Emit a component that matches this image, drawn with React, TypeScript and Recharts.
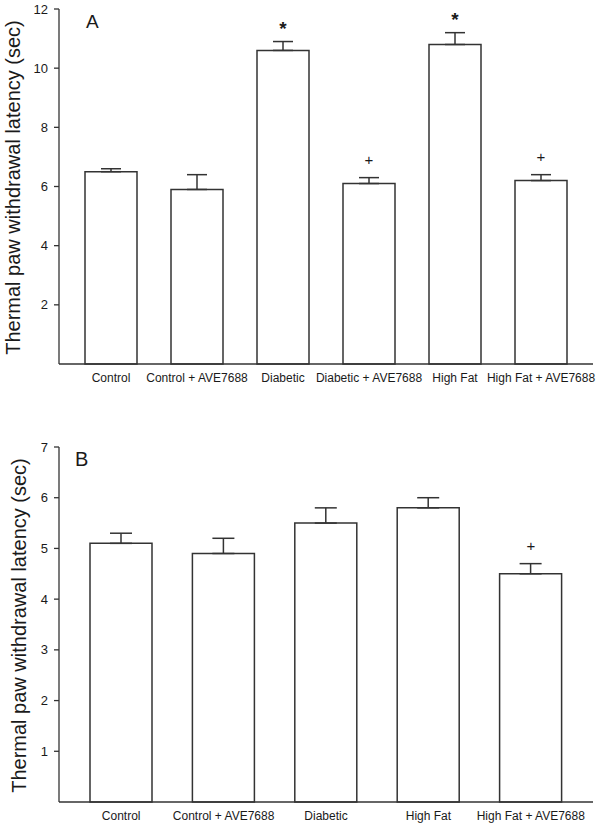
import React from "react";
import {
  Bar,
  ComposedChart,
  ErrorBar,
  Label,
  Scatter,
  XAxis,
  YAxis,
} from "recharts";

const FONT = "'Liberation Sans', Arial, Helvetica, sans-serif";
const INK = "#1a1a1a";
const LINE = "#333";

// panel A
const groupsA = [
  "Control",
  "Control + AVE7688",
  "Diabetic",
  "Diabetic + AVE7688",
  "High Fat",
  "High Fat + AVE7688",
];
const meanA = [6.5, 5.9, 10.6, 6.1, 10.8, 6.2];
const semA = [0.1, 0.5, 0.3, 0.2, 0.4, 0.2];
const markA = ["", "", "*", "+", "*", "+"];
const ticksA = [2, 4, 6, 8, 10, 12];

// panel B
const groupsB = [
  "Control",
  "Control + AVE7688",
  "Diabetic",
  "High Fat",
  "High Fat + AVE7688",
];
const meanB = [5.1, 4.9, 5.5, 5.8, 4.5];
const semB = [0.2, 0.3, 0.3, 0.2, 0.2];
const markB = ["", "", "", "", "+"];
const ticksB = [1, 2, 3, 4, 5, 6, 7];

const Y_TITLE = "Thermal paw withdrawal latency (sec)";

function rows(groups: string[], mean: number[], sem: number[], mark: string[]) {
  return groups.map((name, i) => ({
    name,
    mean: mean[i],
    err: [0, sem[i]],
    top: mean[i] + sem[i],
    mark: mark[i],
  }));
}

function MarkShape(props: any) {
  const { cx, cy, payload } = props;
  if (!payload || !payload.mark) return <g />;
  const star = payload.mark === "*";
  return (
    <text
      x={cx}
      y={star ? cy - 7 : cy - 13}
      textAnchor="middle"
      fontFamily={FONT}
      fontSize={star ? 19 : 15}
      fontWeight={star ? "bold" : "normal"}
      fill={INK}
    >
      {payload.mark}
    </text>
  );
}

function yTitle(baseX: number) {
  return (p: any) => {
    const vb = p.viewBox || {};
    const cy = (vb.y ?? 0) + (vb.height ?? 0) / 2 + 1;
    return (
      <text
        x={baseX}
        y={cy}
        transform={`rotate(-90, ${baseX}, ${cy})`}
        textAnchor="middle"
        fontFamily={FONT}
        fontSize={20}
        fill={INK}
      >
        {Y_TITLE}
      </text>
    );
  };
}

type PanelProps = {
  data: any[];
  ticks: number[];
  max: number;
  height: number;
  margin: { top: number; right: number; bottom: number; left: number };
  pad: number;
  barSize: number;
  capWidth: number;
  titleX: number;
  xHeight: number;
};

function Panel(p: PanelProps) {
  return (
    <ComposedChart width={601} height={p.height} data={p.data} margin={p.margin}>
      <XAxis
        dataKey="name"
        type="category"
        padding={{ left: p.pad, right: p.pad }}
        tickLine={false}
        tickSize={0}
        tickMargin={9}
        height={p.xHeight}
        interval={0}
        axisLine={{ stroke: LINE, strokeWidth: 1.3 }}
        tick={{ fontSize: 12, fill: INK, fontFamily: FONT }}
      />
      <YAxis
        type="number"
        domain={[0, p.max]}
        ticks={p.ticks}
        width={59}
        tickSize={5}
        tickMargin={6}
        axisLine={{ stroke: LINE, strokeWidth: 1.3 }}
        tickLine={{ stroke: LINE, strokeWidth: 1.3 }}
        tick={{ fontSize: 13, fill: INK, fontFamily: FONT }}
      >
        <Label content={yTitle(p.titleX)} />
      </YAxis>
      <Bar
        dataKey="mean"
        fill="#fff"
        stroke={LINE}
        strokeWidth={1.5}
        barSize={p.barSize}
        isAnimationActive={false}
      >
        <ErrorBar
          dataKey="err"
          width={p.capWidth}
          stroke={LINE}
          strokeWidth={1.5}
          direction="y"
        />
      </Bar>
      <Scatter dataKey="top" shape={MarkShape} isAnimationActive={false} />
    </ComposedChart>
  );
}

export default function App() {
  const dataA = rows(groupsA, meanA, semA, markA);
  const dataB = rows(groupsB, meanB, semB, markB);
  return (
    <div
      style={{
        position: "absolute",
        left: 0,
        top: 0,
        width: 601,
        height: 826,
        background: "#fff",
      }}
    >
      <div style={{ position: "absolute", left: 0, top: 0 }}>
        <Panel
          data={dataA}
          ticks={ticksA}
          max={12}
          height={400}
          margin={{ top: 9, right: 8, bottom: 6, left: 0 }}
          pad={9}
          barSize={52}
          capWidth={10}
          titleX={20}
          xHeight={30}
        />
      </div>
      <div style={{ position: "absolute", left: 0, top: 420 }}>
        <Panel
          data={dataB}
          ticks={ticksB}
          max={7}
          height={406}
          margin={{ top: 27, right: 8, bottom: 0, left: 0 }}
          pad={11}
          barSize={62}
          capWidth={11}
          titleX={26}
          xHeight={24}
        />
      </div>
      <svg
        width={601}
        height={826}
        style={{ position: "absolute", left: 0, top: 0, pointerEvents: "none" }}
      >
        <text x={86} y={28} fontFamily={FONT} fontSize={19} fill={INK}>
          A
        </text>
        <text x={75} y={466} fontFamily={FONT} fontSize={20} fill={INK}>
          B
        </text>
      </svg>
    </div>
  );
}
